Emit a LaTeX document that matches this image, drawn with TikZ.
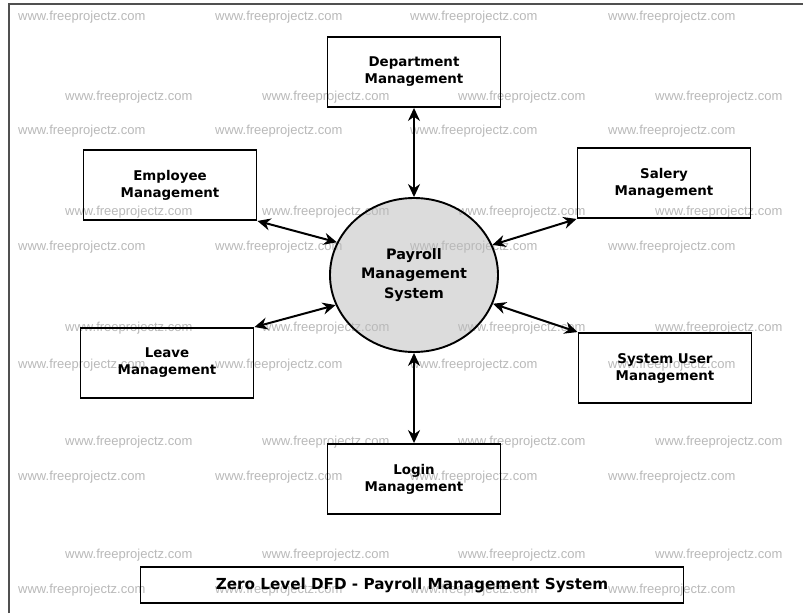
\documentclass[tikz,border=0pt]{standalone}
\usepackage{fontspec}
\setmainfont{DejaVu Sans}
\newfontfamily\wmfont{Liberation Sans}
\usetikzlibrary{shapes.geometric,arrows.meta}

\definecolor{wmgray}{RGB}{185,185,185}
\definecolor{bubble}{RGB}{220,220,220}
\definecolor{framegray}{RGB}{80,80,80}

\tikzset{
  entity/.style={draw, line width=1.9pt, minimum width=173pt,
    minimum height=70pt, inner sep=2pt, align=center,
    font=\bfseries\fontsize{13.4}{17}\selectfont},
  process/.style={draw, ellipse, line width=1.9pt,
    minimum width=168pt, minimum height=154pt, inner sep=0pt, align=center,
    font=\bfseries\fontsize{14.4}{19.5}\selectfont},
  caption/.style={draw, line width=1.9pt, minimum width=543pt,
    minimum height=36pt, inner sep=0pt,
    font=\bfseries\fontsize{15.2}{18}\selectfont},
  flow/.style={{Stealth[length=13pt,width=12pt]}-{Stealth[length=13pt,width=12pt]},
    line width=2pt},
  mark wm/.style={anchor=west, text=wmgray, inner sep=0pt,
    font=\wmfont\fontsize{13}{15}\selectfont},
}

\begin{document}
\begin{tikzpicture}[x=1pt,y=-1pt]
  \useasboundingbox (0,0) rectangle (803,613);
  \fill[white] (0,0) rectangle (803,613);

  % page frame
  \draw[framegray, line width=1.8pt] (9,613) -- (9,4) -- (803,4);

  % shading of the central process bubble
  \fill[bubble] (414,275) ellipse [x radius=84, y radius=77];

  % repeated site marks
  \foreach \y [count=\i] in {17,131,247,365,477,590}
    \foreach \x [count=\j] in {18,215,410,608}
      \node[mark wm] (wa\i\j) at (\x,\y) {www.freeprojectz.com};
  \foreach \y [count=\i] in {97,212,328,442,555}
    \foreach \x [count=\j] in {65,262,458,655}
      \node[mark wm] (wb\i\j) at (\x,\y) {www.freeprojectz.com};

  % central process
  \node[process] (pms) at (414,275) {Payroll\\Management\\System};

  % external entities
  \node[entity] (dept)  at (414,72)  {Department\\Management};
  \node[entity] (emp)   at (170,185) {Employee\\Management};
  \node[entity] (sal)   at (664,183) {Salery\\Management};
  \node[entity] (leave) at (167,363) {Leave\\Management};
  \node[entity] (sys)   at (665,368) {System User\\Management};
  \node[entity] (login) at (414,479) {Login\\Management};

  % data flows
  \draw[flow] (dept.south) -- (pms.north);
  \draw[flow] (emp.south east) -- (pms.157);
  \draw[flow] (sal.south west) -- (pms.21);
  \draw[flow] (leave.north east) -- (pms.201);
  \draw[flow] (sys.north west) -- (pms.-20);
  \draw[flow] (login.north) -- (pms.south);

  % caption
  \node[caption] (title) at (412,585) {Zero Level DFD - Payroll Management System};
\end{tikzpicture}
\end{document}
